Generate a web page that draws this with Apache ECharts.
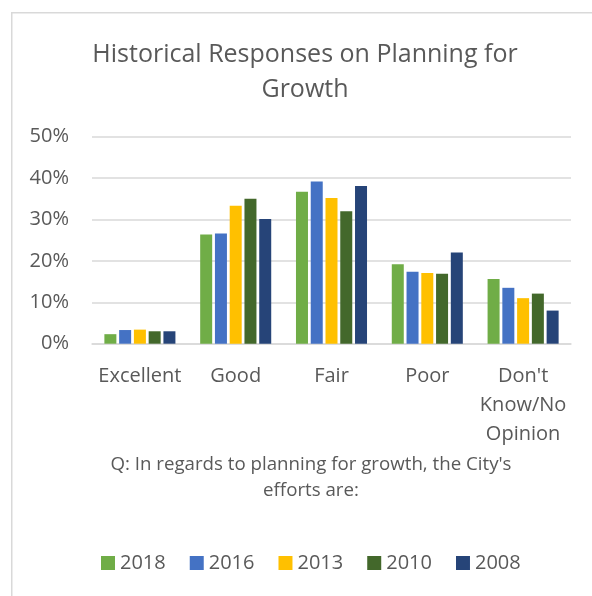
<!DOCTYPE html>
<html><head><meta charset="utf-8">
<script src="https://cdn.jsdelivr.net/npm/echarts@6/dist/echarts.min.js"></script>
<style>html,body{margin:0;padding:0;background:#fff}#c{width:592px;height:596px}</style>
</head><body><div id="c"></div>
<script>
const categories = ['Excellent', 'Good', 'Fair', 'Poor', "Don't\nKnow/No\nOpinion"];
const years = ['2018', '2016', '2013', '2010', '2008'];
const colors = ['#70AD47', '#4472C4', '#FFC000', '#43682B', '#264478'];
const v2018 = [0.023, 0.264, 0.367, 0.192, 0.156];
const v2016 = [0.033, 0.266, 0.392, 0.174, 0.135];
const v2013 = [0.034, 0.333, 0.352, 0.171, 0.110];
const v2010 = [0.030, 0.350, 0.320, 0.169, 0.121];
const v2008 = [0.030, 0.301, 0.381, 0.220, 0.080];
const yTicks = [0, 0.1, 0.2, 0.3, 0.4, 0.5];
const titleText = 'Historical Responses on Planning for\nGrowth';
const subText = "Q: In regards to planning for growth, the City's\nefforts are:";

const seriesValues = [v2018, v2016, v2013, v2010, v2008];
const FONT = '"Open Sans", sans-serif';
const chart = echarts.init(document.getElementById('c'), null, {renderer: 'canvas'});
chart.setOption({
  animation: false,
  backgroundColor: '#fff',
  graphic: [{
    type: 'rect', left: 11, top: 12, z: -1,
    shape: {width: 700, height: 700},
    style: {fill: '#fff', stroke: '#d9d9d9', lineWidth: 1.5}
  }],
  title: [{
    text: titleText, left: 305, top: 37, textAlign: 'center', padding: 0,
    textStyle: {fontFamily: FONT, fontSize: 25, fontWeight: 'normal', color: '#595959', lineHeight: 35}
  }, {
    text: subText, left: 311, top: 452, textAlign: 'center', padding: 0,
    textStyle: {fontFamily: FONT, fontSize: 18.7, fontWeight: 'normal', color: '#595959', lineHeight: 25.5}
  }],
  legend: {
    left: 101, top: 553, itemWidth: 14, itemHeight: 14, itemGap: 24, padding: 0,
    icon: 'rect',
    textStyle: {fontFamily: FONT, fontSize: 20, color: '#595959'},
    data: years
  },
  grid: {left: 92, right: 21, top: 136.7, bottom: 252.3, containLabel: false},
  xAxis: {
    type: 'category', data: categories,
    axisLine: {lineStyle: {color: '#d9d9d9', width: 1.5}},
    axisTick: {show: false},
    axisLabel: {interval: 0, margin: 18, fontFamily: FONT, fontSize: 20, color: '#595959', lineHeight: 29}
  },
  yAxis: {
    type: 'value', min: yTicks[0], max: yTicks[yTicks.length - 1], interval: 0.1,
    axisLine: {show: false}, axisTick: {show: false},
    splitLine: {lineStyle: {color: '#d9d9d9', width: 1.5}},
    axisLabel: {margin: 23, fontFamily: FONT, fontSize: 20, color: '#595959',
      formatter: v => Math.round(v * 100) + '%'}
  },
  series: years.map((y, i) => ({
    name: y, type: 'bar', data: seriesValues[i],
    barWidth: 12, barGap: '23%',
    itemStyle: {color: colors[i]}
  }))
});
</script></body></html>
